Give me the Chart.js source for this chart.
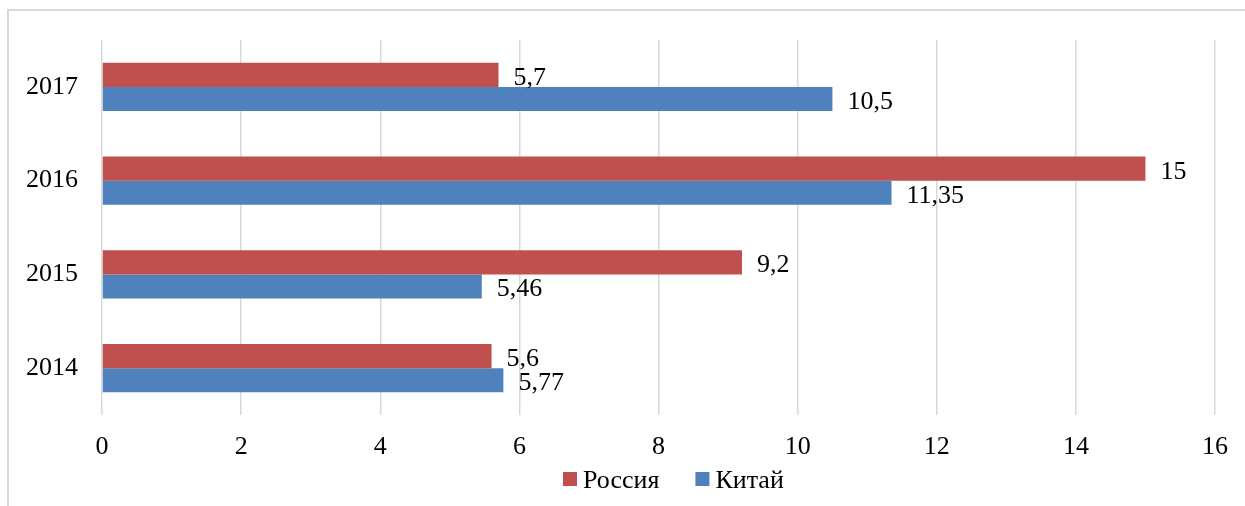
<!DOCTYPE html>
<html><head><meta charset="utf-8">
<script src="https://cdn.jsdelivr.net/npm/chart.js@4.4.1/dist/chart.umd.min.js"></script>
<style>html,body{margin:0;padding:0;background:#fff}#wrap{width:1245px;height:506px;position:relative}canvas{display:block}</style>
</head><body><div id="wrap"><canvas id="c" width="1245" height="506"></canvas></div>
<script>
const categories = ['2017', '2016', '2015', '2014'];
const russia = [5.7, 15, 9.2, 5.6];
const china = [10.5, 11.35, 5.46, 5.77];
const seriesNames = ['Россия', 'Китай'];
const xTickValues = [0, 2, 4, 6, 8, 10, 12, 14, 16];

const FONT = '"Liberation Serif", "Times New Roman", serif';
const FS = 26;
const RED = '#C0504D';
const BLUE = '#4F81BD';
const fmt = v => String(v).replace('.', ',');

const deco = {
  id: 'deco',
  beforeDraw(chart) {
    const ctx = chart.ctx;
    ctx.save();
    ctx.fillStyle = '#fff';
    ctx.fillRect(0, 0, chart.width, chart.height);
    ctx.strokeStyle = '#d9d9d9';
    ctx.lineWidth = 2;
    ctx.beginPath();
    ctx.moveTo(8, chart.height);
    ctx.lineTo(8, 10);
    ctx.lineTo(chart.width, 10);
    ctx.stroke();
    ctx.restore();
  },
  afterDatasetsDraw(chart) {
    const ctx = chart.ctx;
    ctx.save();
    ctx.font = FS + 'px ' + FONT;
    ctx.fillStyle = '#000';
    ctx.textAlign = 'left';
    ctx.textBaseline = 'alphabetic';
    chart.data.datasets.forEach((ds, i) => {
      const meta = chart.getDatasetMeta(i);
      meta.data.forEach((bar, j) => {
        ctx.fillText(fmt(ds.data[j]), bar.x + 15, bar.y + 10);
      });
    });
    ctx.restore();
  },
  afterDraw(chart) {
    const ctx = chart.ctx;
    ctx.save();
    ctx.font = FS + 'px ' + FONT;
    ctx.textBaseline = 'alphabetic';
    ctx.textAlign = 'left';
    let x = 563;
    const cy = 479;
    chart.data.datasets.forEach((ds) => {
      ctx.fillStyle = ds.backgroundColor;
      ctx.fillRect(x, cy - 7, 14, 14);
      ctx.fillStyle = '#000';
      ctx.fillText(ds.label, x + 20, cy + 9);
      x += 20 + ctx.measureText(ds.label).width + 36;
    });
    ctx.restore();
  }
};

new Chart(document.getElementById('c'), {
  type: 'bar',
  data: {
    labels: categories,
    datasets: [
      { label: seriesNames[0], data: russia, backgroundColor: RED, categoryPercentage: 0.515, barPercentage: 1 },
      { label: seriesNames[1], data: china, backgroundColor: BLUE, categoryPercentage: 0.515, barPercentage: 1 }
    ]
  },
  options: {
    indexAxis: 'y',
    responsive: false,
    animation: false,
    devicePixelRatio: 1,
    layout: { padding: { top: 40, right: 30, left: 0, bottom: 0 } },
    plugins: { legend: { display: false }, tooltip: { enabled: false } },
    scales: {
      x: {
        min: 0, max: 16,
        afterBuildTicks(scale) { scale.ticks = xTickValues.map(v => ({ value: v })); },
        afterFit(scale) { scale.height = 91; },
        grid: { color: '#d9d9d9', lineWidth: 1.5, drawTicks: false },
        border: { display: false },
        ticks: { font: { family: FONT, size: FS }, color: '#000', padding: 17, callback: v => String(v) }
      },
      y: {
        afterFit(scale) { scale.width = 102; },
        grid: { display: false, drawTicks: false },
        border: { display: false },
        ticks: { font: { family: FONT, size: FS }, color: '#000', padding: 24 }
      }
    }
  },
  plugins: [deco]
});
</script></body></html>
